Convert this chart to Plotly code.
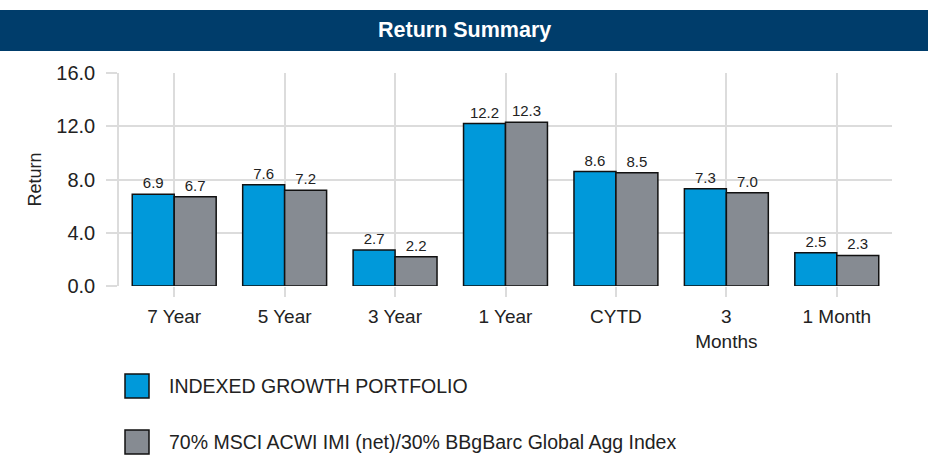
import plotly.graph_objects as go

categories = ["7 Year", "5 Year", "3 Year", "1 Year", "CYTD", "3<br>Months", "1 Month"]
portfolio_name = "INDEXED GROWTH PORTFOLIO"
benchmark_name = "70% MSCI ACWI IMI (net)/30% BBgBarc Global Agg Index"
portfolio_values = [6.9, 7.6, 2.7, 12.2, 8.6, 7.3, 2.5]
benchmark_values = [6.7, 7.2, 2.2, 12.3, 8.5, 7.0, 2.3]
y_ticks = [0, 4, 8, 12, 16]
y_tick_labels = ["0.0", "4.0", "8.0", "12.0", "16.0"]
title_text = "Return Summary"
y_title = "Return"

BLUE = "#0099DA"
GRAY = "#868B92"
NAVY = "#003D6B"
GRID = "#DCDCDC"
FONT = "Liberation Sans, Arial, sans-serif"
NARROW = "Liberation Sans Narrow, Arial Narrow, Liberation Sans, sans-serif"

W, H = 928, 457
ML, MR, MT, MB = 119, 36, 73, 171
pw = W - ML - MR
ph = H - MT - MB

def px(x):
    return (x - ML) / pw

def py(y):
    return (H - MB - y) / ph

fig = go.Figure()
for name, vals, col in [(portfolio_name, portfolio_values, BLUE), (benchmark_name, benchmark_values, GRAY)]:
    fig.add_trace(go.Bar(
        x=categories, y=vals, name=name,
        marker=dict(color=col, line=dict(color="#111111", width=1.5)),
        text=[f"{v:.1f}" for v in vals], textposition="outside",
        textfont=dict(family=NARROW, size=15, color="#222222"),
        cliponaxis=False, showlegend=False,
    ))

shapes = [
    dict(type="rect", xref="paper", yref="paper", x0=px(0), x1=px(W), y0=py(51), y1=py(10),
         fillcolor=NAVY, line=dict(width=0), layer="above"),
]
annotations = [
    dict(text=f"<b>{title_text}</b>", xref="paper", yref="paper", x=px(W / 2), y=py(30.5),
         showarrow=False, font=dict(family=FONT, size=21.5, color="white"), xanchor="center", yanchor="middle"),
]
for i, (name, col) in enumerate([(portfolio_name, BLUE), (benchmark_name, GRAY)]):
    cy = 386 + i * 56
    shapes.append(dict(type="rect", xref="paper", yref="paper", x0=px(125), x1=px(149),
                       y0=py(cy + 12), y1=py(cy - 12), fillcolor=col,
                       line=dict(color="#111111", width=1.5)))
    annotations.append(dict(text=name, xref="paper", yref="paper", x=px(167), y=py(cy),
                            showarrow=False, xanchor="left", yanchor="middle",
                            font=dict(family=FONT, size=19.5, color="#222222")))

fig.update_layout(
    width=W, height=H,
    margin=dict(l=ML, r=MR, t=MT, b=MB),
    paper_bgcolor="white", plot_bgcolor="white",
    barmode="group", bargap=0.24, bargroupgap=0,
    shapes=shapes, annotations=annotations,
    xaxis=dict(showgrid=True, gridcolor=GRID, gridwidth=1.5, ticks="outside", ticklen=10,
               tickcolor=GRID, tickwidth=1.5, tickfont=dict(family=FONT, size=19, color="#222222"),
               ticklabelstandoff=3, showline=False, zeroline=False),
    yaxis=dict(range=[0, 16], tickvals=y_ticks, ticktext=y_tick_labels, showgrid=True,
               gridcolor=GRID, gridwidth=1.5, ticks="outside", ticklen=11, tickcolor=GRID,
               tickwidth=1.5, tickfont=dict(family=FONT, size=20, color="#222222"),
               ticklabelstandoff=7,
               title=dict(text=y_title, font=dict(family=FONT, size=18, color="#222222"), standoff=10),
               showline=True, linecolor=GRID, linewidth=1.5, zeroline=False),
)

fig.write_html("out.html", config={"displayModeBar": False},
               post_script="document.body.style.margin='0';document.body.style.overflow='hidden';")
